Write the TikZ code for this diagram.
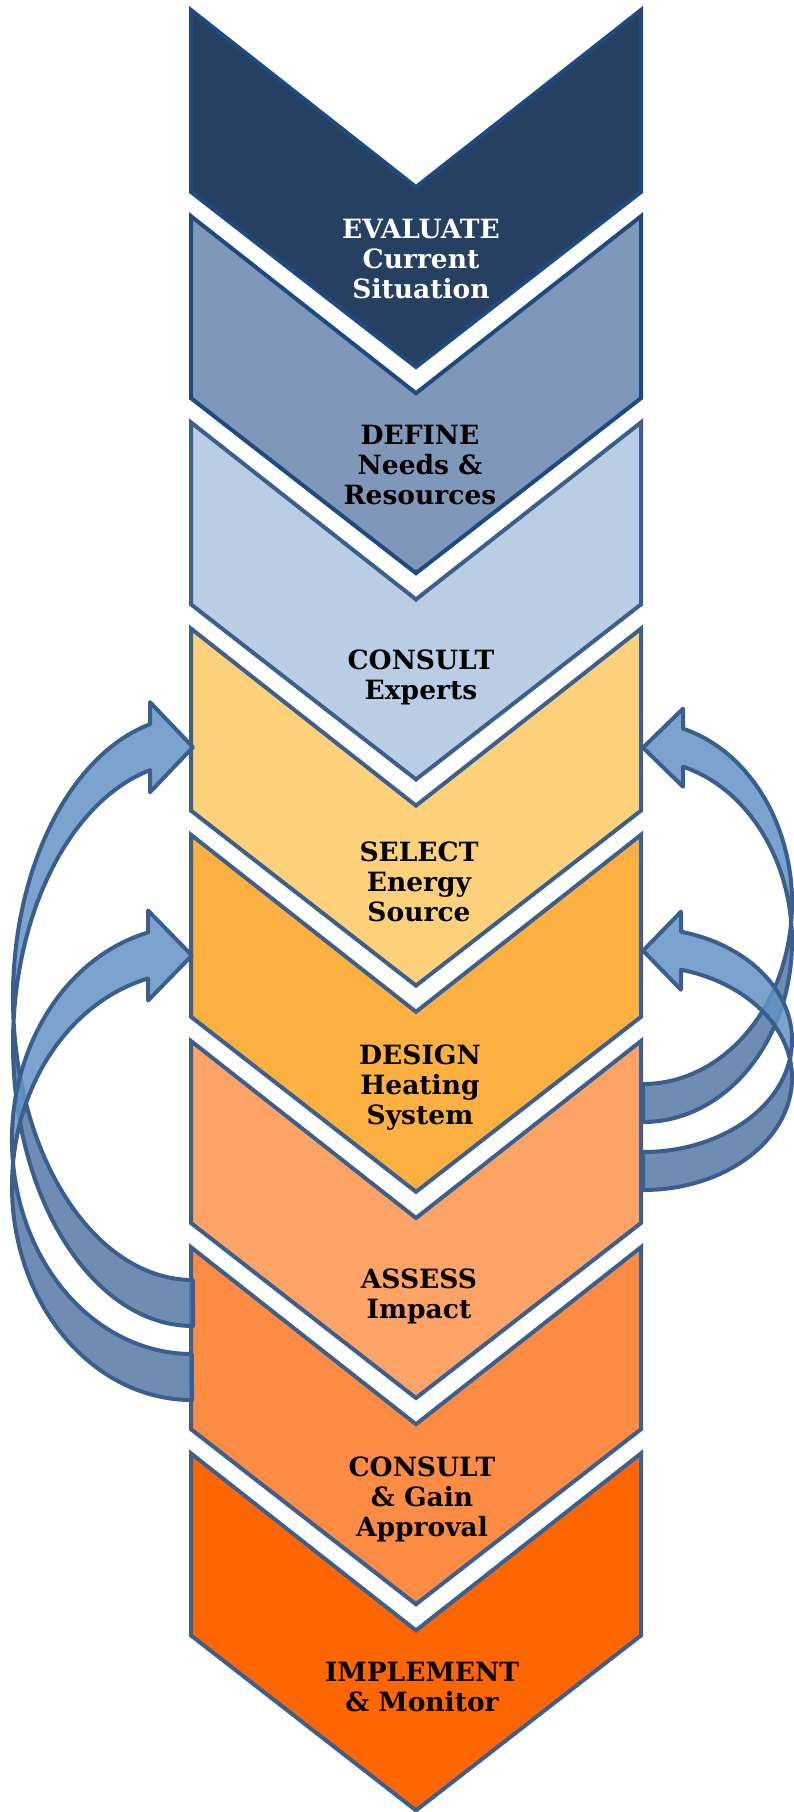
\documentclass[tikz,border=0pt]{standalone}
\usepackage{fontspec}
\setmainfont{DejaVu Serif}
\definecolor{fA}{HTML}{264062}
\definecolor{fB}{HTML}{7F97B8}
\definecolor{fC}{HTML}{B9CDE5}
\definecolor{fD}{HTML}{FDD17A}
\definecolor{fE}{HTML}{FCB040}
\definecolor{fF}{HTML}{FDA366}
\definecolor{fG}{HTML}{FD8B43}
\definecolor{fH}{HTML}{FF6600}
\definecolor{bdark}{HTML}{1F4A7F}
\definecolor{bsteel}{HTML}{3D5F8E}
\definecolor{arrL}{HTML}{6493C6}
\definecolor{arrD}{HTML}{5679A6}
\definecolor{arrS}{HTML}{3A5F8F}
\newcommand\mychev[3]{%
  \draw[chevline, draw=#3, fill=#2] (191,#1) -- (416,{#1+177}) -- (641,#1) -- (641,{#1+182}) -- (416,{#1+357}) -- (191,{#1+182}) -- cycle;}
\newcommand\curvarrow[6]{% #1 c1, #2 hR, #3 th, #4 w, #5 ah, #6 dh
  \pgfmathsetmacro\cvcB{#1-#3}
  \pgfmathsetmacro\cvAE{270-asin(#5/#4)}
  \pgfmathsetmacro\cvyin{#1-#2*cos(asin(#5/#4))}
  \pgfmathsetmacro\cvyout{\cvyin-#3}
  \pgfmathsetmacro\cvybl{\cvyin+#6}
  \pgfmathsetmacro\cvybu{\cvyout-#6}
  \pgfmathsetmacro\cvytip{(\cvyin+\cvyout)/2}
  \pgfmathsetmacro\cvyB{#1+#2}
  \fill[arrdark] (0,\cvyB) arc[start angle=90,end angle=180,x radius=#4,y radius=#2]
     -- (-#4,\cvcB) arc[start angle=180,end angle=90,x radius=#4,y radius=#2] -- cycle;
  \fill[arrlight] (-#4,#1) arc[start angle=180,end angle=\cvAE,x radius=#4,y radius=#2]
     -- (-#5,\cvybl) -- (0,\cvytip) -- (-#5,\cvybu) -- (-#5,\cvyout)
     arc[start angle=\cvAE,end angle=180,x radius=#4,y radius=#2] -- cycle;
  \draw[arrline] (0,\cvyB) arc[start angle=90,end angle=\cvAE,x radius=#4,y radius=#2]
     -- (-#5,\cvybl) -- (0,\cvytip) -- (-#5,\cvybu) -- (-#5,\cvyout)
     arc[start angle=\cvAE,end angle=90,x radius=#4,y radius=#2] -- cycle;}
\begin{document}
\begin{tikzpicture}[x=1pt,y=-1pt,
  chevline/.style={line width=4pt, line join=miter},
  lab/.style={font=\bfseries\fontsize{26.5}{30}\selectfont, align=center, text=black, inner sep=0pt},
  arrlight/.style={fill=arrL, fill opacity=0.85},
  arrdark/.style={fill=arrD, fill opacity=0.85},
  arrline/.style={draw=arrS, line width=4pt, line join=round}]
\useasboundingbox (0,0) rectangle (793,1812);
\fill[white] (0,0) rectangle (793,1812);
% chevrons
\mychev{10}{fA}{bdark}
\mychev{216.2}{fB}{bdark}
\mychev{422.4}{fC}{bsteel}
\mychev{628.6}{fD}{bsteel}
\mychev{834.8}{fE}{bsteel}
\mychev{1041}{fF}{bsteel}
\mychev{1247.2}{fG}{bsteel}
\mychev{1453.4}{fH}{bsteel}
% labels
\node[lab, text=white] (t1) at (421,259) {EVALUATE\\Current\\Situation};
\node[lab] (t2) at (420,465) {DEFINE\\Needs \&\\Resources};
\node[lab] (t3) at (421,677) {CONSULT\\Experts};
\node[lab] (t4) at (419,882) {SELECT\\Energy\\Source};
\node[lab] (t5) at (420,1088) {DESIGN\\Heating\\System};
\node[lab] (t6) at (419,1296) {ASSESS\\Impact};
\node[lab] (t7) at (422,1499) {CONSULT\\\& Gain\\Approval};
\node[lab] (t8) at (422,1687) {IMPLEMENT\\\& Monitor};
% curved arrows, left side
\begin{scope}[shift={(193,0)}]
  \curvarrow{1044}{282}{46}{180}{43}{22}
\end{scope}
\begin{scope}[shift={(192,0)}]
  \curvarrow{1186}{214}{46}{180}{44}{22}
\end{scope}
% curved arrows, right side
\begin{scope}[shift={(643,0)}, xscale=-1]
  \curvarrow{941}{181}{38}{149}{40}{20}
\end{scope}
\begin{scope}[shift={(643,0)}, xscale=-1]
  \curvarrow{1078}{112}{38}{149}{38}{20}
\end{scope}
\end{tikzpicture}
\end{document}
